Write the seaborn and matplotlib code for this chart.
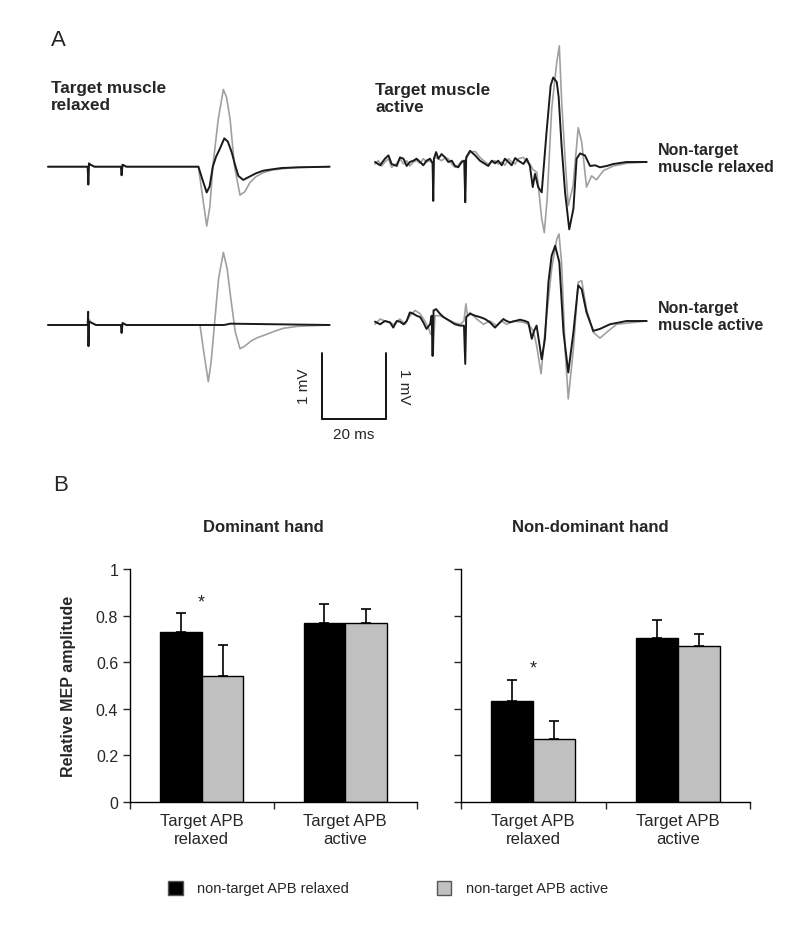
import pandas as pd
import seaborn as sns
import matplotlib.pyplot as plt
from matplotlib.ticker import FixedLocator

# ---- panel A: example MEP traces, time in ms, amplitude in mV ----
# top-left: target relaxed / non-target relaxed
tl_gray_t = [0, 12.4, 12.6, 12.8, 13.3, 14.5, 22.8, 23.0, 23.3, 24.5, 47.0, 48.3, 49.6, 50.6, 51.5,
             53.2, 54.8, 55.8, 56.9, 58.3, 60.0, 61.5, 63.1, 65.0, 67.3, 70.0, 73.5, 78.0, 88]
tl_gray_v = [0, 0, -0.27, 0.05, 0.03, 0, 0, -0.13, 0.03, 0, 0, -0.45, -0.9, -0.6, 0.0,
             0.72, 1.17, 1.05, 0.72, 0.0, -0.43, -0.38, -0.24, -0.15, -0.09, -0.05, -0.03, -0.01, 0]
tl_black_t = [0, 12.4, 12.6, 12.8, 13.3, 14.5, 22.8, 23.0, 23.3, 24.5, 47.0, 48.3, 49.6, 50.5, 51.5,
              52.5, 53.5, 55.1, 56.2, 57.4, 58.5, 59.5, 61.0, 63.0, 65.0, 67.3, 70.0, 73.0, 78.0, 88]
tl_black_v = [0, 0, -0.27, 0.05, 0.03, 0, 0, -0.13, 0.03, 0, 0, -0.2, -0.39, -0.3, 0.0,
              0.15, 0.25, 0.43, 0.38, 0.22, 0.02, -0.14, -0.2, -0.15, -0.1, -0.06, -0.04, -0.02, -0.01, 0]

# bottom-left: target relaxed / non-target active
bl_gray_t = [0, 12.4, 12.6, 12.8, 13.5, 15, 22.8, 23.0, 23.3, 24.5, 47.5, 48.8, 50.1, 51.0, 52.0,
             53.3, 54.8, 56.0, 57.0, 58.5, 60.0, 61.5, 63.5, 65.5, 67.3, 70.5, 73.5, 78, 88]
bl_gray_v = [0, 0, -0.32, 0.08, 0.04, 0, 0, -0.12, 0.03, 0, 0, -0.45, -0.86, -0.55, 0.0,
             0.7, 1.1, 0.85, 0.45, -0.1, -0.36, -0.32, -0.24, -0.19, -0.16, -0.1, -0.05, -0.02, 0]
bl_black_t = [0, 12.4, 12.55, 12.65, 12.8, 13.3, 15.0, 22.8, 23.0, 23.3, 24.5, 55, 57, 88]
bl_black_v = [0, 0, 0.2, -0.32, 0.05, 0.04, 0, 0, -0.12, 0.03, 0, 0, 0.02, 0]

# top-right: target active / non-target relaxed
tr_black_t = [0, 1.6, 3.1, 4.2, 5.2, 6.8, 7.8, 8.9, 9.9, 10.9, 12.0, 13.0, 14.1, 15.1, 16.1, 17.2,
              18.0, 18.2, 18.4, 19.1, 19.8, 20.8, 21.9, 22.9, 24.0, 25.0, 26.0, 27.1, 27.9, 28.2,
              28.5, 29.7, 31.3, 32.8, 34.4, 35.4, 36.5, 37.5, 38.5, 39.6, 40.6, 41.7, 42.7, 43.8,
              44.8, 46.4, 47.4, 48.4, 49.3, 50.0, 51.0, 52.1, 53.6, 54.9, 55.7, 56.8, 57.4, 58.3,
              59.4, 60.7, 62.0, 63.0, 64.1, 65.6, 67.2, 68.8, 70.3, 72.4, 74.5, 78.6, 84.9]
tr_black_v = [0, -0.05, 0.05, 0.10, -0.03, -0.06, 0.07, 0.05, -0.06, 0.0, 0.02, 0.05, 0.0, -0.05,
              0.02, 0.05, -0.02, -0.59, 0.05, 0.15, 0.05, 0.12, 0.07, 0.0, 0.02, -0.06, -0.08, 0.0,
              0.02, -0.61, 0.07, 0.17, 0.10, 0.02, -0.03, -0.06, 0.02, -0.02, 0.02, -0.05, 0.05,
              0.0, -0.05, 0.06, 0.02, -0.03, 0.05, -0.06, -0.38, -0.18, -0.38, -0.46, 0.45, 1.16,
              1.28, 1.21, 0.98, 0.25, -0.46, -1.02, -0.71, 0.05, 0.13, 0.10, -0.06, -0.05, -0.08,
              -0.06, -0.03, 0.0, 0.0]
tr_gray_t = [0, 1.0, 2.1, 3.1, 4.2, 5.2, 6.8, 7.8, 8.9, 9.9, 10.9, 12.0, 13.0, 14.1, 15.1, 16.1, 17.2,
             18.0, 18.2, 18.4, 19.1, 20.8, 21.9, 22.9, 24.0, 25.0, 26.0, 27.1, 27.9, 28.2, 28.5,
             29.7, 31.3, 32.8, 34.4, 35.4, 36.5, 37.5, 38.5, 39.6, 40.6, 41.7, 42.7, 43.8, 44.8,
             46.4, 47.4, 48.4, 49.3, 50.6, 52.1, 52.9, 53.8, 55.2, 56.8, 57.6, 58.3, 59.4, 60.4,
             61.9, 63.5, 64.6, 66.1, 67.7, 69.2, 71.4, 74.5, 78.6, 84.9]
tr_gray_v = [-0.03, 0.02, -0.06, 0.0, 0.05, -0.08, -0.02, 0.05, -0.03, 0.02, -0.06, 0.0, 0.02, -0.02,
             0.05, 0.0, 0.02, -0.02, -0.55, 0.05, 0.07, 0.02, 0.06, 0.05, -0.03, -0.08, -0.05, 0.02,
             0.02, -0.55, 0.05, 0.15, 0.16, 0.07, 0.0, -0.03, 0.0, 0.02, -0.03, 0.0, -0.05, 0.05,
             0.0, -0.03, 0.05, 0.07, 0.0, -0.03, -0.11, -0.16, -0.86, -1.07, -0.56, 0.80, 1.51,
             1.76, 0.95, 0.05, -0.66, -0.36, 0.52, 0.30, -0.38, -0.21, -0.27, -0.13, -0.06, -0.02, 0.0]

# bottom-right: target active / non-target active
br_black_t = [0, 1.6, 3.1, 4.7, 5.7, 6.8, 7.8, 8.9, 9.9, 10.9, 12.0, 13.0, 14.1, 15.1, 16.1, 17.2,
              17.7, 18.0, 18.3, 19.1, 20.3, 21.4, 22.4, 23.4, 25.0, 26.6, 27.8, 28.2, 28.5, 29.7,
              31.3, 32.8, 34.4, 35.9, 37.5, 38.5, 40.1, 41.1, 42.2, 43.8, 45.3, 46.9, 47.9, 49.0,
              49.7, 50.5, 52.1, 53.1, 54.2, 55.2, 56.3, 57.6, 58.9, 60.4, 62.0, 63.5, 64.6, 66.1,
              68.2, 70.3, 73.4, 78.6, 84.9]
br_black_v = [-0.01, -0.05, 0.0, -0.02, -0.10, 0.0, -0.01, -0.05, 0.0, 0.13, 0.11, 0.08, 0.06, -0.02,
              -0.12, -0.05, 0.08, -0.53, 0.16, 0.18, 0.11, 0.06, 0.03, 0.0, -0.05, -0.07, -0.07,
              -0.65, 0.06, 0.11, 0.08, 0.06, 0.03, -0.02, -0.10, -0.05, 0.03, 0.0, -0.02, 0.0, 0.02,
              0.0, -0.02, -0.27, -0.15, -0.07, -0.58, -0.27, 0.59, 0.99, 1.14, 0.89, -0.17, -0.78,
              -0.17, 0.54, 0.48, 0.13, -0.15, -0.12, -0.05, 0.0, 0.0]
br_gray_t = [0, 1.6, 3.1, 4.7, 5.7, 7.8, 9.4, 10.9, 12.5, 14.1, 15.6, 16.7, 17.4, 18.0, 18.2, 18.75,
             20.3, 22.4, 24.5, 26.6, 27.8, 28.4, 28.9, 29.7, 31.8, 33.9, 35.9, 38.0, 39.6, 41.1,
             43.2, 46.4, 47.9, 49.5, 50.5, 51.9, 53.1, 54.2, 55.2, 56.8, 57.5, 58.3, 59.4, 60.4,
             62.0, 63.5, 64.6, 66.1, 68.2, 70.3, 72.4, 75.5, 84.9]
br_gray_v = [-0.05, 0.03, 0.0, -0.03, -0.05, 0.03, -0.05, 0.08, 0.16, 0.11, 0.0, -0.10, -0.20, -0.2,
             -0.45, 0.08, 0.08, 0.03, -0.02, -0.05, 0.0, 0.26, 0.08, 0.13, 0.03, -0.05, 0.0, -0.07,
             0.0, -0.05, 0.0, -0.02, -0.05, -0.15, -0.37, -0.80, -0.17, 0.33, 0.79, 1.24, 1.32,
             0.89, -0.42, -1.18, -0.42, 0.59, 0.61, 0.18, -0.17, -0.26, -0.17, -0.05, 0.0]

SCALE_MS = 20
SCALE_MV = 1

# ---- panel B: relative MEP amplitude (mean, +SE) ----
conditions = ["Target APB\nrelaxed", "Target APB\nactive"]
groups = ["non-target APB relaxed", "non-target APB active"]
dominant_relaxed = [0.73, 0.54]
dominant_active = [0.77, 0.77]
dominant_err_relaxed = [0.08, 0.135]
dominant_err_active = [0.08, 0.06]
nondom_relaxed = [0.435, 0.272]
nondom_active = [0.706, 0.668]
nondom_err_relaxed = [0.087, 0.076]
nondom_err_active = [0.076, 0.054]

rows = []
for hand, rel, act, erel, eact in [
    ("Dominant hand", dominant_relaxed, dominant_active, dominant_err_relaxed, dominant_err_active),
    ("Non-dominant hand", nondom_relaxed, nondom_active, nondom_err_relaxed, nondom_err_active),
]:
    for g in range(2):
        rows.append({"hand": hand, "condition": conditions[0], "group": groups[g],
                     "value": rel[g], "err": erel[g]})
        rows.append({"hand": hand, "condition": conditions[1], "group": groups[g],
                     "value": act[g], "err": eact[g]})
df = pd.DataFrame(rows)

sns.set_style("ticks")
plt.rcParams["font.family"] = ["Liberation Sans", "DejaVu Sans"]

W, H = 800, 937
fig = plt.figure(figsize=(W / 100, H / 100), dpi=100)


def fx(px):
    return px / W


def fy(py):
    return (H - py) / H


GRAY = "#a0a0a0"
DARK = "#1a1a1a"
ms_px, mv_px = 3.2, 66.0
ylo, yhi = -1.5, 1.9


def trace_axes(left_px, base_px):
    bottom = base_px - ylo * mv_px
    ax = fig.add_axes([fx(left_px), fy(bottom), 90 * ms_px / W, (yhi - ylo) * mv_px / H])
    ax.set_xlim(0, 90)
    ax.set_ylim(ylo, yhi)
    ax.axis("off")
    return ax


traces = [
    (48, 167.7, tl_gray_t, tl_gray_v, tl_black_t, tl_black_v),
    (48, 326, bl_gray_t, bl_gray_v, bl_black_t, bl_black_v),
    (375, 163, tr_gray_t, tr_gray_v, tr_black_t, tr_black_v),
    (375, 322, br_gray_t, br_gray_v, br_black_t, br_black_v),
]
trace_axs = []
for left, base, gt, gv, bt, bv in traces:
    ax = trace_axes(left, base)
    sns.lineplot(x=gt, y=gv, color=GRAY, lw=1.2, ax=ax, estimator=None, sort=False)
    sns.lineplot(x=bt, y=bv, color=DARK, lw=1.4, ax=ax, estimator=None, sort=False)
    for ln in ax.lines:
        ln.set_clip_on(False)
    trace_axs.append(ax)

# scale bar in the bottom-left trace axes
ax = trace_axs[1]
x0, y0 = 85.6, -1.42
ax.plot([x0, x0, x0 + SCALE_MS, x0 + SCALE_MS], [y0 + SCALE_MV, y0, y0, y0 + SCALE_MV],
        color="black", lw=1.3, clip_on=False, solid_joinstyle="miter")
ax.text(x0 - 3.5, y0 + SCALE_MV / 2, "1 mV", rotation=90, ha="right", va="center", fontsize=11)
ax.text(x0 + SCALE_MS + 3.5, y0 + SCALE_MV / 2, "1 mV", rotation=270, ha="left", va="center",
        fontsize=11)
ax.text(x0 + SCALE_MS / 2, y0 - 0.12, "20 ms", ha="center", va="top", fontsize=11)

fig.text(fx(51), fy(30), "A", fontsize=16, va="top", ha="left")
fig.text(fx(51), fy(81), "Target muscle\nrelaxed", fontsize=12.3, fontweight="bold", va="top")
fig.text(fx(375), fy(83), "Target muscle\nactive", fontsize=12.3, fontweight="bold", va="top")
fig.text(fx(658), fy(143), "Non-target\nmuscle relaxed", fontsize=11.5, fontweight="bold", va="top")
fig.text(fx(658), fy(301), "Non-target\nmuscle active", fontsize=11.5, fontweight="bold", va="top")

# ---- panel B ----
fig.text(fx(53), fy(475), "B", fontsize=16, va="top", ha="left")

palette = {groups[0]: "#000000", groups[1]: "#c0c0c0"}
axL = fig.add_axes([fx(130), fy(803), 287 / W, 233 / H])
axR = fig.add_axes([fx(461), fy(803), 289 / W, 233 / H])

for ax, hand, star_y, title_x in [(axL, "Dominant hand", 0.86, 263),
                                  (axR, "Non-dominant hand", 0.575, 590)]:
    sub = df[df["hand"] == hand]
    sns.barplot(data=sub, x="condition", y="value", hue="group", order=conditions,
                hue_order=groups, palette=palette, edgecolor="black", linewidth=1,
                width=0.58, errorbar=None, ax=ax)
    for cont, g in zip(ax.containers, groups):
        errs = sub[sub["group"] == g].set_index("condition").loc[conditions, "err"].values
        xs = [b.get_x() + b.get_width() / 2 for b in cont]
        ys = [b.get_height() for b in cont]
        ax.errorbar(xs, ys, yerr=[[0] * len(errs), errs], fmt="none", ecolor="black",
                    elinewidth=1.2, capsize=3.5, capthick=1.2)
    ax.text(0, star_y, "*", ha="center", va="center", fontsize=13)
    ax.legend_.remove()
    ax.set_xlim(-0.5, 1.5)
    ax.set_ylim(0, 1)
    ax.set_xlabel("")
    ax.set_ylabel("")
    sns.despine(ax=ax)
    ax.xaxis.set_minor_locator(FixedLocator([-0.5, 0.5, 1.5]))
    ax.tick_params(axis="x", which="major", length=0, pad=8, labelsize=12)
    ax.tick_params(axis="x", which="minor", length=5, width=1, direction="out")
    ax.tick_params(axis="y", length=5, width=1, direction="out", labelsize=11.5)
    ax.set_yticks([0, 0.2, 0.4, 0.6, 0.8, 1.0])
    for sp in ax.spines.values():
        sp.set_linewidth(1)
        sp.set_color("black")
    fig.text(fx(title_x), fy(527), hand, ha="center", va="center", fontsize=12,
             fontweight="bold")

axL.set_yticklabels(["0", "0.2", "0.4", "0.6", "0.8", "1"])
axL.set_ylabel("Relative MEP amplitude", fontsize=11.5, fontweight="bold", labelpad=14)
axR.set_yticklabels([])

handles = [plt.Rectangle((0, 0), 1, 1, facecolor=palette[g], edgecolor="#555555") for g in groups]
fig.legend(handles, groups, loc="center", bbox_to_anchor=(fx(388), fy(889)), ncol=2,
           frameon=False, fontsize=10.5, handlelength=1.0, handleheight=1.1,
           handletextpad=1.0, columnspacing=6.0)

fig.savefig("out.png", dpi=100)
